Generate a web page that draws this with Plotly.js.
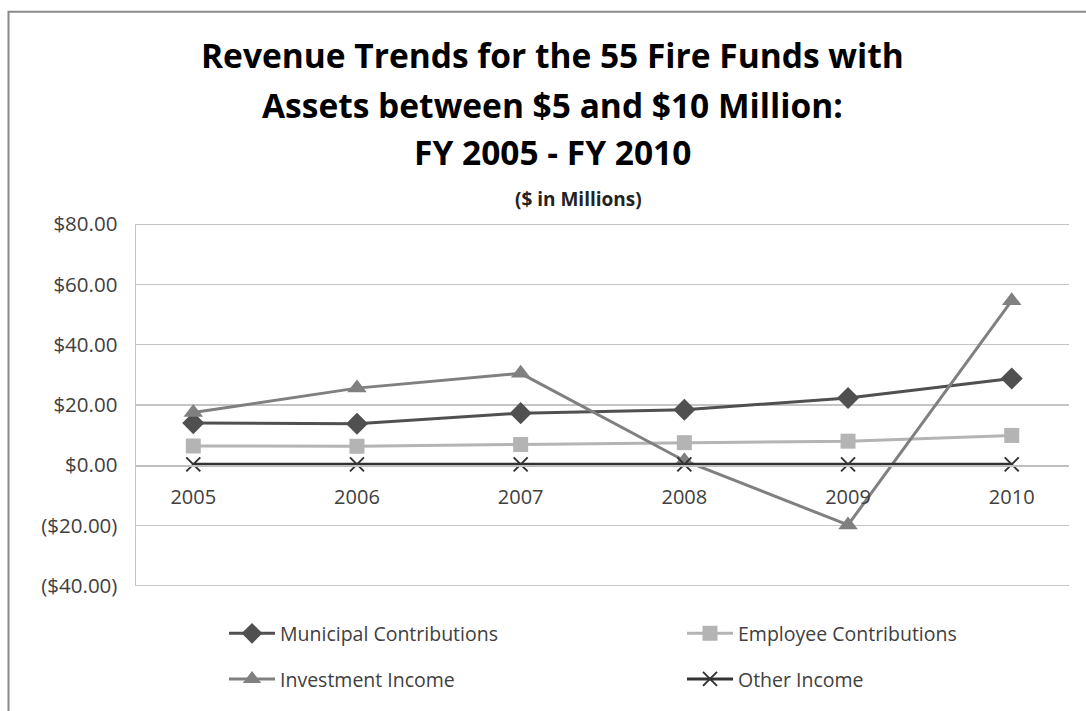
<!DOCTYPE html>
<html>
<head>
<meta charset="utf-8">
<script src="https://cdn.plot.ly/plotly-3.0.1.min.js"></script>
<style>html,body{margin:0;padding:0;background:#fff;}#chart{width:1086px;height:711px;}</style>
</head>
<body>
<div id="chart"></div>
<script>
const years = ["2005", "2006", "2007", "2008", "2009", "2010"];
const municipal = [14.0, 13.8, 17.3, 18.4, 22.3, 28.8];
const employee = [6.4, 6.3, 6.9, 7.5, 8.0, 9.9];
const investment = [17.5, 25.6, 30.5, 1.5, -19.8, 54.6];
const other = [0.3, 0.3, 0.3, 0.3, 0.3, 0.3];
const yTickVals = [-40, -20, 0, 20, 40, 60, 80];
const yTickText = ["($40.00)", "($20.00)", "$0.00", "$20.00", "$40.00", "$60.00", "$80.00"];
const seriesNames = ["Municipal Contributions", "Employee Contributions", "Investment Income", "Other Income"];
const titleLines = ["Revenue Trends for the 55 Fire Funds with", "Assets between $5 and $10 Million:", "FY 2005 - FY 2010"];
const subtitle = "($ in Millions)";

const FONT = "'Open Sans', Lato, sans-serif";

const traces = [
  {x: years, y: municipal, name: seriesNames[0], type: "scatter", mode: "lines+markers",
   line: {color: "#505050", width: 3}, marker: {symbol: "diamond", size: 17, color: "#505050"}, legend: "legend"},
  {x: years, y: employee, name: seriesNames[1], type: "scatter", mode: "lines+markers",
   line: {color: "#b4b4b4", width: 3}, marker: {symbol: "square", size: 15, color: "#b4b4b4"}, legend: "legend2"},
  {x: years, y: investment, name: seriesNames[2], type: "scatter", mode: "lines+markers",
   line: {color: "#808080", width: 3}, marker: {symbol: "triangle-up", size: 17, color: "#808080"}, legend: "legend3"},
  {x: years, y: other, name: seriesNames[3], type: "scatter", mode: "lines+markers",
   line: {color: "#333333", width: 3}, marker: {symbol: "x-thin-open", size: 14, color: "#333333", line: {color: "#333333", width: 2}}, legend: "legend4"}
];

const px = v => (v - 136) / 933;
const py = v => (589 - v) / 365;

const annotations = [
  {text: "<b>" + titleLines[0] + "</b>", x: px(552), y: py(54)},
  {text: "<b>" + titleLines[1] + "</b>", x: px(552), y: py(104)},
  {text: "<b>" + titleLines[2] + "</b>", x: px(552), y: py(151)}
].map(a => Object.assign(a, {xref: "paper", yref: "paper", showarrow: false, xanchor: "center", yanchor: "middle",
  font: {family: FONT, size: 33.5, color: "#000"}}));
annotations.push({text: "<b>" + subtitle + "</b>", x: px(578), y: py(199), xref: "paper", yref: "paper",
  showarrow: false, xanchor: "center", yanchor: "middle", font: {family: FONT, size: 19, color: "#222"}});

const legendBase = (x, y) => ({orientation: "h", x: px(x), y: py(y), xanchor: "left", yanchor: "middle",
  itemwidth: 46, font: {size: 19.5, color: "#404040", family: FONT}, bgcolor: "rgba(0,0,0,0)"});

const edgeGrid = yv => ({type: "line", xref: "paper", yref: "y", x0: 0, x1: 1, y0: yv, y1: yv,
  line: {color: "#c4c4c4", width: 1.5}, layer: "below"});

const layout = {
  width: 1086, height: 711,
  margin: {l: 136, r: 17, t: 224, b: 122},
  paper_bgcolor: "#fff", plot_bgcolor: "#fff",
  font: {family: FONT, color: "#404040"},
  showlegend: true,
  xaxis: {type: "category", anchor: "free", position: 1/3, showline: true, linecolor: "#bfbfbf", linewidth: 1.5,
    showgrid: false, zeroline: false, ticks: "", ticklabelstandoff: 13,
    tickfont: {size: 20, color: "#404040", family: FONT}, fixedrange: true},
  yaxis: {range: [-40.06, 80.06], tickvals: yTickVals, ticktext: yTickText, showgrid: true, gridcolor: "#c4c4c4", gridwidth: 1.5,
    showline: true, linecolor: "#c4c4c4", linewidth: 1.5, zeroline: false, ticks: "", ticklabelstandoff: 13,
    tickfont: {size: 20.5, color: "#404040", family: FONT}, fixedrange: true},
  legend: legendBase(224, 637),
  legend2: legendBase(682, 637),
  legend3: legendBase(224, 683),
  legend4: legendBase(682, 683),
  annotations: annotations,
  shapes: [
    {type: "rect", xref: "paper", yref: "paper", x0: px(8.5), y0: py(760), x1: px(1140), y1: py(10),
     line: {color: "#8a8a8a", width: 2}, fillcolor: "rgba(0,0,0,0)", layer: "below"},
    edgeGrid(yTickVals[yTickVals.length - 1]),
    edgeGrid(yTickVals[0])
  ]
};

Plotly.newPlot("chart", traces, layout, {displayModeBar: false, staticPlot: true});
</script>
</body>
</html>
